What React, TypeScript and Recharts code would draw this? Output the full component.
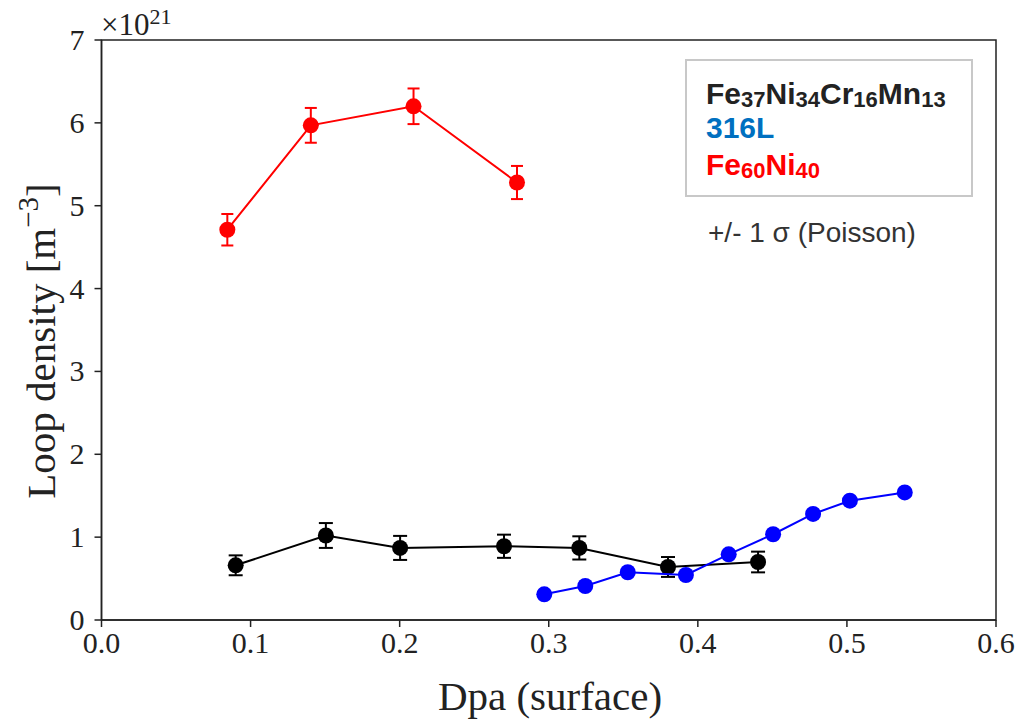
import React from 'react';
import {
    ScatterChart,
    Scatter,
    XAxis,
    YAxis,
    ErrorBar,
    ReferenceArea,
} from 'recharts';

// values in units of 1e21 m^-3
const fe37Dpa = [0.09, 0.1505, 0.2003, 0.27, 0.3205, 0.38, 0.4404];
const fe37Density = [0.66, 1.02, 0.87, 0.89, 0.87, 0.64, 0.70];
const fe37Sigma = [0.12, 0.15, 0.145, 0.14, 0.14, 0.12, 0.125];

const ss316Dpa = [0.297, 0.3245, 0.353, 0.392, 0.4207, 0.4505, 0.4773, 0.502, 0.5388];
const ss316Density = [0.31, 0.41, 0.576, 0.543, 0.793, 1.035, 1.28, 1.44, 1.54];

const fe60Dpa = [0.0844, 0.1404, 0.2093, 0.2787];
const fe60Density = [4.71, 5.97, 6.2, 5.28];
const fe60Sigma = [0.19, 0.21, 0.215, 0.2];

const xTicks = [0, 0.1, 0.2, 0.3, 0.4, 0.5, 0.6];
const yTicks = [0, 1, 2, 3, 4, 5, 6, 7];

const toPoints = (xs: number[], ys: number[], errs?: number[]) =>
    xs.map((x, i) => ({ x, y: ys[i], err: errs ? errs[i] : 0 }));

const fe37Data = toPoints(fe37Dpa, fe37Density, fe37Sigma);
const ss316Data = toPoints(ss316Dpa, ss316Density);
const fe60Data = toPoints(fe60Dpa, fe60Density, fe60Sigma);

const SERIF = '"Liberation Serif", "Times New Roman", serif';
const SANS = '"Liberation Sans", Arial, sans-serif';

const dot = (color: string) => (props: any) => (
    <circle cx={props.cx} cy={props.cy} r={8} fill={color} />
);

const XTick = (props: any) => (
    <text x={props.x} y={props.y + 20} textAnchor="middle" fontFamily={SERIF} fontSize={30} fill="#222">
        {Number(props.payload.value).toFixed(1)}
    </text>
);

const YTick = (props: any) => (
    <text x={props.x} y={props.y + 10} textAnchor="end" fontFamily={SERIF} fontSize={30} fill="#222">
        {props.payload.value}
    </text>
);

export default function App() {
    return (
        <div style={{ position: 'absolute', left: 0, top: 0, width: 1020, height: 719, background: '#fff' }}>
            <ScatterChart
                width={1020}
                height={719}
                margin={{ top: 40, right: 24, bottom: 0, left: 0 }}
            >
                <XAxis
                    type="number"
                    dataKey="x"
                    domain={[0, 0.6]}
                    ticks={xTicks}
                    height={99}
                    tick={<XTick />}
                    tickSize={7}
                    tickMargin={6}
                    stroke="#222"
                    strokeWidth={1.5}
                    allowDataOverflow
                />
                <YAxis
                    type="number"
                    dataKey="y"
                    domain={[0, 7]}
                    ticks={yTicks}
                    width={101.5}
                    tick={<YTick />}
                    tickSize={7}
                    tickMargin={10}
                    stroke="#222"
                    strokeWidth={1.5}
                    allowDataOverflow
                />
                <ReferenceArea x1={0} x2={0.6} y1={0} y2={7} fill="none" stroke="#222" strokeWidth={1.5} />
                <Scatter
                    data={fe37Data}
                    fill="#000"
                    line={{ stroke: '#000', strokeWidth: 2 }}
                    lineType="joint"
                    shape={dot('#000')}
                    isAnimationActive={false}
                >
                    <ErrorBar dataKey="err" direction="y" width={7} stroke="#000" strokeWidth={2} />
                </Scatter>
                <Scatter
                    data={ss316Data}
                    fill="#0000ff"
                    line={{ stroke: '#0000ff', strokeWidth: 2 }}
                    lineType="joint"
                    shape={dot('#0000ff')}
                    isAnimationActive={false}
                />
                <Scatter
                    data={fe60Data}
                    fill="#ff0000"
                    line={{ stroke: '#ff0000', strokeWidth: 2 }}
                    lineType="joint"
                    shape={dot('#ff0000')}
                    isAnimationActive={false}
                >
                    <ErrorBar dataKey="err" direction="y" width={6} stroke="#ff0000" strokeWidth={2} />
                </Scatter>
            </ScatterChart>

            {/* labels, multiplier and the legend box */}
            <svg
                width={1020}
                height={719}
                style={{ position: 'absolute', left: 0, top: 0, pointerEvents: 'none' }}
            >
                <text x={101} y={35} fontFamily={SERIF} fontSize={31} fill="#222">
                    ×10<tspan fontSize={22} dy={-11}>21</tspan>
                </text>
                <text x={550} y={710} textAnchor="middle" fontFamily={SERIF} fontSize={41} fill="#222">
                    Dpa (surface)
                </text>
                <text
                    x={55}
                    y={341}
                    textAnchor="middle"
                    fontFamily={SERIF}
                    fontSize={41}
                    fill="#222"
                    transform="rotate(-90, 55, 341)"
                >
                    Loop density [m<tspan fontSize={29} dy={-17}>−3</tspan><tspan dy={17}>]</tspan>
                </text>

                <rect x={686} y={60} width={286} height={136} fill="#fff" stroke="#c8c8c8" strokeWidth={2} />
                <text x={706} y={104} fontFamily={SANS} fontWeight="bold" fontSize={30} fill="#222">
                    Fe<tspan fontSize={22} dy={3}>37</tspan>
                    <tspan dy={-3}>Ni</tspan><tspan fontSize={22} dy={3}>34</tspan>
                    <tspan dy={-3}>Cr</tspan><tspan fontSize={22} dy={3}>16</tspan>
                    <tspan dy={-3}>Mn</tspan><tspan fontSize={22} dy={3}>13</tspan>
                </text>
                <text x={706} y={138} fontFamily={SANS} fontWeight="bold" fontSize={30} fill="#0070c0">
                    316L
                </text>
                <text x={706} y={175} fontFamily={SANS} fontWeight="bold" fontSize={30} fill="#ff0000">
                    Fe<tspan fontSize={22} dy={3}>60</tspan>
                    <tspan dy={-3}>Ni</tspan><tspan fontSize={22} dy={3}>40</tspan>
                </text>
                <text x={708} y={242} fontFamily={SANS} fontSize={28} fill="#333">
                    +/- 1 σ (Poisson)
                </text>
            </svg>
        </div>
    );
}
